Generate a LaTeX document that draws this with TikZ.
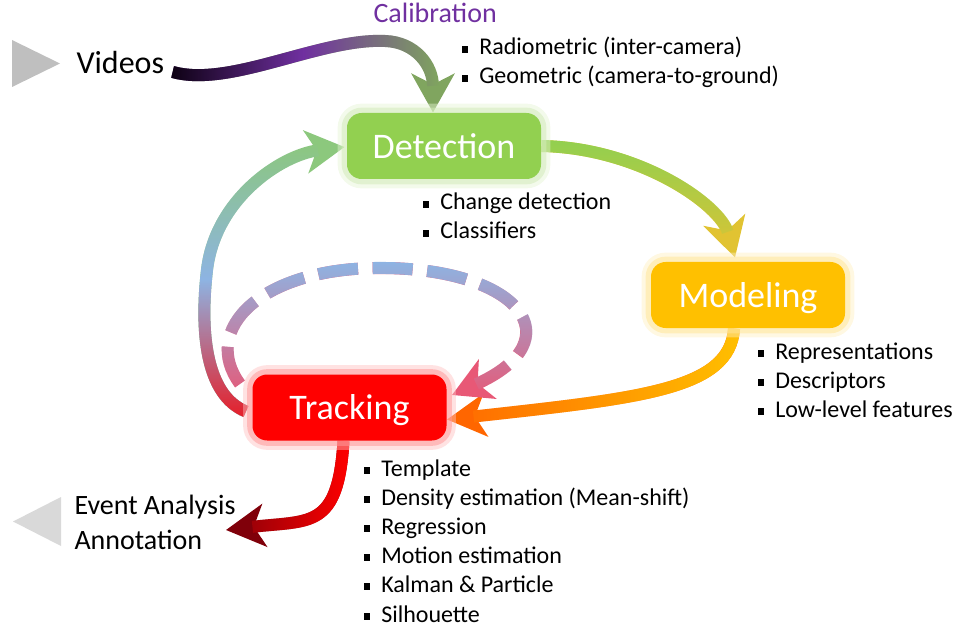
\documentclass[tikz,border=0pt]{standalone}
\usepackage{fontspec}
\setmainfont{Carlito}
\usetikzlibrary{arrows.meta,fadings,backgrounds}
\definecolor{detgreen}{RGB}{146,208,80}
\definecolor{modyellow}{RGB}{255,192,0}
\definecolor{trkred}{RGB}{255,0,0}
\definecolor{calpurple}{RGB}{112,48,160}
\definecolor{tipolive}{RGB}{128,165,95}
\definecolor{tipyellow}{RGB}{225,195,50}
\definecolor{lineorange}{RGB}{255,102,0}
\definecolor{loopblue}{RGB}{142,180,227}
\definecolor{looppink}{RGB}{232,88,118}
\definecolor{tipgreen}{RGB}{140,200,125}
\definecolor{lineblood}{RGB}{230,30,40}
\definecolor{darkred}{RGB}{128,0,10}
\definecolor{vidblack}{RGB}{10,0,15}
\tikzset{every picture/.style={line width=0.75pt}}
\tikzfading[name=fade to right, left color=transparent!0, right color=transparent!100]
\tikzfading[name=fade to left, left color=transparent!100, right color=transparent!0]
\tikzfading[name=keep left half, left color=transparent!0, right color=transparent!100, middle color=transparent!0]
\tikzfading[name=left third, left color=transparent!0, right color=transparent!100, middle color=transparent!100]
\tikzfading[name=fade to bottom, top color=transparent!0, bottom color=transparent!100]
\tikzfading[name=lower two, top color=transparent!100, bottom color=transparent!0, middle color=transparent!0]
\tikzfading[name=lower one, top color=transparent!100, bottom color=transparent!0, middle color=transparent!100]
\newcommand{\sqb}{\raisebox{0.1em}{\rule{0.29em}{0.29em}}\hspace{0.45em}}

\begin{document}
\begin{tikzpicture}[x=0.75pt,y=0.75pt,yscale=-1,xscale=1,
  box/.style={rectangle, rounded corners=11pt, fill=#1, text=white,
    minimum width=145.5pt, minimum height=49.5pt, inner sep=0pt,
    font=\fontsize{27}{30}\selectfont, text depth=0pt,
    preaction={draw=#1!25, line width=14pt, draw opacity=0.45},
    preaction={draw=#1!40, line width=8pt, draw opacity=0.55}},
  item/.style={anchor=base west, inner sep=0pt, font=\fontsize{18}{21.9}\selectfont},
  flow/.style={line width=9pt, -{Stealth[length=29pt,width=32pt,inset=8pt]}},
  over/.style 2 args={postaction={draw=#1, path fading=#2, arrows=-, shorten >=20pt}},
  overdash/.style 2 args={postaction={draw=#1, path fading=#2, arrows=-, shorten >=20pt, dash pattern=on 30pt off 11pt}}]
\useasboundingbox (0,0) rectangle (953,627);

%Shape: Triangle
\fill [gray!50] (12,40) -- (60,63.5) -- (12,87) -- cycle ;
%Shape: Triangle
\fill [gray!30] (61,497) -- (13,521.5) -- (61,546) -- cycle ;

% Text Node
\node [anchor=base west, inner sep=0pt, font=\fontsize{24}{28}\selectfont] (vid) at (76,74) {Videos};
% Text Node
\node [anchor=base west, inner sep=0pt, font=\fontsize{21}{25}\selectfont, text=calpurple] (cal) at (373,23) {Calibration};
\node [item] (cal1) at (461,55) {\sqb Radiometric (inter-camera)};
\node [item] (cal2) at (461,84) {\sqb Geometric (camera-to-ground)};

% Boxes
\node [box=detgreen] (det) at (444,146) {Detection};
\node [box=modyellow] (mod) at (748,295) {Modeling};
\node [box=trkred] (trk) at (349.5,407.5) {Tracking};

% Text Node
\node [item] (det1) at (422,210) {\sqb Change detection};
\node [item] (det2) at (422,239) {\sqb Classifiers};
% Text Node
\node [item] (mod1) at (757,359) {\sqb Representations};
\node [item] (mod2) at (757,388) {\sqb Descriptors};
\node [item] (mod3) at (757,417) {\sqb Low-level features};
% Text Node
\node [item] (trk1) at (363,476) {\sqb Template};
\node [item] (trk2) at (363,505.2) {\sqb Density estimation (Mean-shift)};
\node [item] (trk3) at (363,534.4) {\sqb Regression};
\node [item] (trk4) at (363,563.6) {\sqb Motion estimation};
\node [item] (trk5) at (363,592.8) {\sqb Kalman \& Particle};
\node [item] (trk6) at (363,622) {\sqb Silhouette};
% Text Node
\node [anchor=west, inner sep=0pt, align=left, font=\fontsize{21}{26.25}\selectfont] (evt) at (74,522) {Event Analysis\\Annotation};

\begin{scope}[on background layer]
%Curve: Videos to Detection
\draw [flow, color=tipolive, over={calpurple}{keep left half}, over={vidblack}{left third}] ([shift={(8,-2)}]vid.base east) .. controls (230,88) and (320,38) .. (385,41) .. controls (415,42) and (433,65) .. ([shift={(-11,0)}]det.north) ;
%Curve: Detection to Modeling
\draw [flow, color=tipyellow, over={detgreen}{fade to bottom}] (det.east) .. controls (640,148) and (720,205) .. ([shift={(-13,-4)}]mod.north) ;
%Curve: Modeling to Tracking
\draw [flow, color=lineorange, over={modyellow}{fade to left}] ([shift={(-14,0)}]mod.south) .. controls (730,390) and (640,398) .. ([shift={(0,12)}]trk.east) ;
%Curve: Tracking to Detection
\draw [flow, color=tipgreen, over={loopblue}{lower two}, over={lineblood}{lower one}] ([shift={(-6,4)}]trk.west) .. controls (205,395) and (200,330) .. (207,270) .. controls (215,200) and (280,155) .. ([shift={(-2,1)}]det.west) ;
%Curve: Tracking loop (dashed)
\draw [flow, color=looppink, dash pattern=on 30pt off 11pt, overdash={loopblue}{fade to bottom}] ([shift={(-12,10)}]trk.north west) .. controls (200,330) and (260,268) .. (380,268) .. controls (520,268) and (575,340) .. ([shift={(5,-12.5)}]trk.east) ;
%Curve: Tracking to Event Analysis
\draw [flow, color=darkred, over={trkred}{fade to left}] ([shift={(-6,0)}]trk.south) .. controls (338,530) and (310,520) .. ([shift={(-10,8)}]evt.east) ;
\end{scope}

\end{tikzpicture}
\end{document}
